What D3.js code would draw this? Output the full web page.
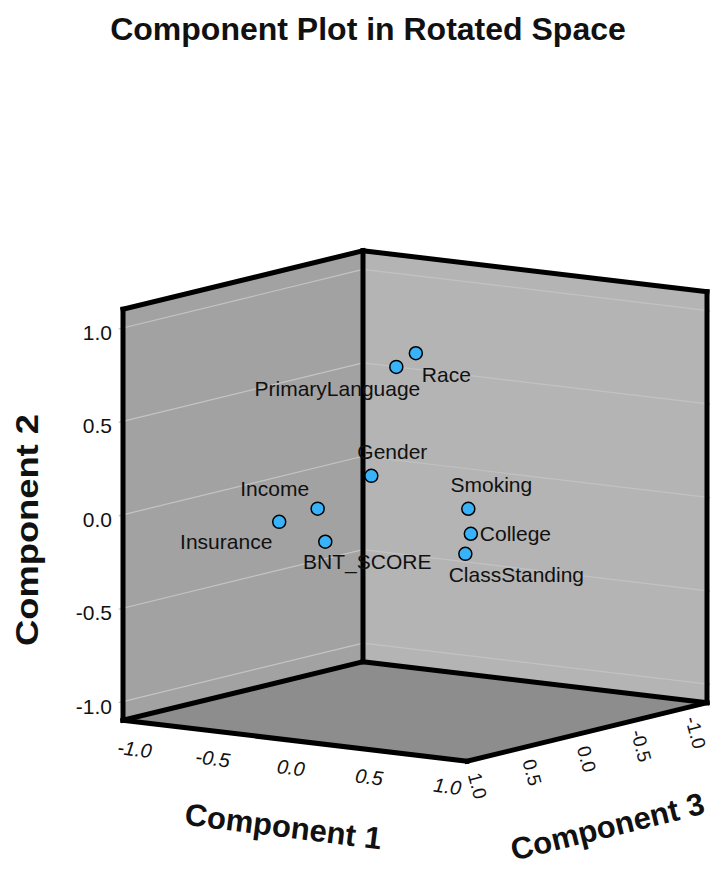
<!DOCTYPE html>
<html>
<head>
<meta charset="utf-8">
<script src="https://cdn.jsdelivr.net/npm/d3@7"></script>
<style>
body { margin: 0; background: #fff; }
text { font-family: Arial, "Liberation Sans", sans-serif; fill: #111; }
</style>
</head>
<body>
<svg width="722" height="876"></svg>
<script>
// Loadings
let variables = ["Race", "PrimaryLanguage", "Gender", "Income", "Insurance", "BNT_SCORE", "Smoking", "College", "ClassStanding"];
let comp1 = [0.11, 0.02, -0.07, -0.19, -0.38, -0.19, 0.62, 0.65, 0.615];
let comp2 = [0.85, 0.775, 0.197, 0.055, -0.023, -0.132, 0.104, -0.024, -0.135];
let comp3 = [0.15, 0.20, 0.30, 0.62, 0.70, 0.55, 0.40, 0.42, 0.42];

let tickValues = [-1, -0.5, 0, 0.5, 1];
let tickLabels = ["-1.0", "-0.5", "0.0", "0.5", "1.0"];

// where each label sits next to its point: [anchor, dx, dy]
let labelPlacement = {
    "Race": ["start", 6, 22],
    "PrimaryLanguage": ["end", 24, 22],
    "Gender": ["middle", 21, -24],
    "Income": ["middle", -43, -20],
    "Insurance": ["middle", -53, 20],
    "BNT_SCORE": ["middle", 42, 20],
    "Smoking": ["middle", 23, -24],
    "College": ["start", 9, 0],
    "ClassStanding": ["middle", 51, 21]
};

let R = 1.1;          // axis range is -1.1 .. 1.1
let cx = 415, cy = 506;

let svg = d3.select("svg");

// each component moves the point along its own screen direction
let x1 = d3.scaleLinear().domain([-R, R]).range([-172, 172]);
let y1 = d3.scaleLinear().domain([-R, R]).range([-20.5, 20.5]);
let y2 = d3.scaleLinear().domain([-R, R]).range([205.5, -205.5]);
let x3 = d3.scaleLinear().domain([-R, R]).range([120, -120]);
let y3 = d3.scaleLinear().domain([-R, R]).range([-29.25, 29.25]);

function proj(a, b, c) {
    return [cx + x1(a) + x3(c), cy + y1(a) + y2(b) + y3(c)];
}

let LB = proj(-R, -R, R), LT = proj(-R, R, R);
let BB = proj(-R, -R, -R), BT = proj(-R, R, -R);
let RB = proj(R, -R, -R), RT = proj(R, R, -R);
let FB = proj(R, -R, R);

let line = d3.line();

// walls and floor
svg.append("path").attr("d", line([LB, LT, BT, BB]) + "Z").attr("fill", "#a2a2a2");
svg.append("path").attr("d", line([BB, BT, RT, RB]) + "Z").attr("fill", "#b4b4b4");
svg.append("path").attr("d", line([LB, BB, RB, FB]) + "Z").attr("fill", "#8d8d8d");

// gridlines on the two walls
svg.append("g").selectAll("path")
    .data(tickValues)
    .enter()
    .append("path")
    .attr("d", d => line([proj(-R, d, R + 0.04), proj(-R, d, -R)]))
    .attr("stroke", "#c4c4c4")
    .attr("stroke-width", 1.2)
    .attr("fill", "none");

svg.append("g").selectAll("path")
    .data(tickValues)
    .enter()
    .append("path")
    .attr("d", d => line([proj(-R, d, -R), proj(R + 0.02, d, -R)]))
    .attr("stroke", "#c2c2c2")
    .attr("stroke-width", 1.2)
    .attr("fill", "none");

// cube edges
let edges = [[LB, LT], [LT, BT], [BB, BT], [BT, RT], [RB, RT], [LB, BB], [BB, RB], [LB, FB], [FB, RB]];
svg.append("g").selectAll("path")
    .data(edges)
    .enter()
    .append("path")
    .attr("d", d => line(d))
    .attr("stroke", "#000")
    .attr("stroke-width", 5)
    .attr("stroke-linecap", "square")
    .attr("fill", "none");

// Component 2 ticks (left edge)
svg.append("g").selectAll("text")
    .data(tickValues)
    .enter()
    .append("text")
    .attr("x", d => proj(-R, d, R)[0] - 11)
    .attr("y", d => proj(-R, d, R)[1] + 12)
    .attr("text-anchor", "end")
    .attr("font-size", 21)
    .text((d, i) => tickLabels[i]);

// Component 1 ticks (front-left floor edge)
svg.append("g").selectAll("text")
    .data(tickValues)
    .enter()
    .append("text")
    .attr("transform", d => {
        let p = proj(d, -R, R);
        return `translate(${p[0] - 4}, ${p[1] + 27}) rotate(7.2)`;
    })
    .attr("y", 7)
    .attr("text-anchor", "middle")
    .attr("font-size", 20)
    .attr("font-style", "italic")
    .text((d, i) => tickLabels[i]);

// Component 3 ticks (front-right floor edge)
svg.append("g").selectAll("text")
    .data(tickValues)
    .enter()
    .append("text")
    .attr("transform", d => {
        let p = proj(R, -R, d);
        return `translate(${p[0]}, ${p[1] + 27}) rotate(75)`;
    })
    .attr("y", 7)
    .attr("text-anchor", "middle")
    .attr("font-size", 19)
    .text((d, i) => tickLabels[i]);

// points
let pts = variables.map((v, i) => ({ name: v, p: proj(comp1[i], comp2[i], comp3[i]) }));

svg.append("g").selectAll("text")
    .data(pts)
    .enter()
    .append("text")
    .attr("x", d => d.p[0] + labelPlacement[d.name][1])
    .attr("y", d => d.p[1] + labelPlacement[d.name][2] + 7)
    .attr("text-anchor", d => labelPlacement[d.name][0])
    .attr("font-size", 21)
    .text(d => d.name);

svg.append("g").selectAll("circle")
    .data(pts)
    .enter()
    .append("circle")
    .attr("cx", d => d.p[0])
    .attr("cy", d => d.p[1])
    .attr("r", 6.5)
    .attr("fill", "#38b2f8")
    .attr("stroke", "#000")
    .attr("stroke-width", 1.5);

// titles
svg.append("text")
    .attr("x", 368)
    .attr("y", 40)
    .attr("text-anchor", "middle")
    .attr("font-size", 32)
    .attr("font-weight", "bold")
    .text("Component Plot in Rotated Space");

svg.append("text")
    .attr("transform", "translate(38, 530) rotate(-90)")
    .attr("text-anchor", "middle")
    .attr("font-size", 32)
    .attr("font-weight", "bold")
    .attr("textLength", 232)
    .attr("lengthAdjust", "spacingAndGlyphs")
    .text("Component 2");

svg.append("text")
    .attr("transform", "translate(282, 837) rotate(7.2)")
    .attr("text-anchor", "middle")
    .attr("font-size", 31)
    .attr("font-weight", "bold")
    .text("Component 1");

svg.append("text")
    .attr("transform", "translate(610, 837) rotate(-13.9)")
    .attr("text-anchor", "middle")
    .attr("font-size", 31)
    .attr("font-weight", "bold")
    .text("Component 3");
</script>
</body>
</html>
